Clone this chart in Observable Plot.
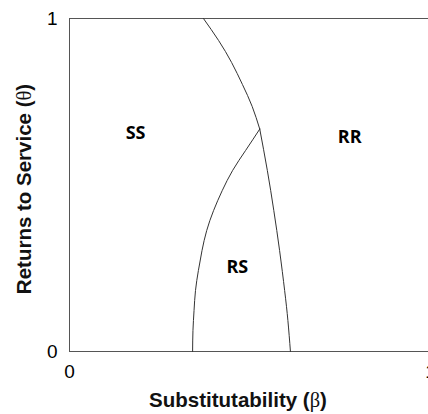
<!DOCTYPE html>
<html>
<head>
<meta charset="utf-8">
<script src="https://cdn.jsdelivr.net/npm/d3@7"></script>
<script src="https://cdn.jsdelivr.net/npm/@observablehq/plot@0.6"></script>
<style>
  html, body { margin: 0; padding: 0; background: #fff; overflow: hidden; }
  #chart svg { display: block; }
</style>
</head>
<body>
<div id="chart"></div>
<script>
// Boundary curves (beta, theta)
const boundarySS_RR = [
  {beta: 0.371, theta: 1.000}, {beta: 0.413, theta: 0.934}, {beta: 0.449, theta: 0.868},
  {beta: 0.479, theta: 0.802}, {beta: 0.506, theta: 0.736}, {beta: 0.527, theta: 0.668}
];
const boundaryRS_RR = [
  {beta: 0.527, theta: 0.668}, {beta: 0.548, theta: 0.544}, {beta: 0.566, theta: 0.423},
  {beta: 0.582, theta: 0.303}, {beta: 0.596, theta: 0.183}, {beta: 0.605, theta: 0.093},
  {beta: 0.612, theta: 0.000}
];
const boundarySS_RS = [
  {beta: 0.527, theta: 0.668}, {beta: 0.488, theta: 0.604}, {beta: 0.452, theta: 0.544},
  {beta: 0.423, theta: 0.483}, {beta: 0.399, theta: 0.423}, {beta: 0.380, theta: 0.363},
  {beta: 0.367, theta: 0.303}, {beta: 0.357, theta: 0.243}, {beta: 0.349, theta: 0.183},
  {beta: 0.345, theta: 0.123}, {beta: 0.342, theta: 0.063}, {beta: 0.341, theta: 0.000}
];
const regionLabels = [
  {beta: 0.183, theta: 0.655, label: "SS"},
  {beta: 0.776, theta: 0.643, label: "RR"},
  {beta: 0.465, theta: 0.252, label: "RS"}
];
const xTicks = [0, 1];
const yTicks = [0, 1];
const xTitle = "Substitutability (β)";
const yTitle = "Returns to Service (θ)";

const curveStyle = {x: "beta", y: "theta", stroke: "#333", strokeWidth: 1, curve: "natural"};

const chart = Plot.plot({
  width: 428,
  height: 414,
  marginLeft: 69,
  marginRight: -2,
  marginTop: 18,
  marginBottom: 63,
  x: {domain: [0, 1]},
  y: {domain: [0, 1]},
  style: {fontFamily: "'Liberation Sans', Arial, sans-serif", background: "#fff", color: "#000"},
  marks: [
    Plot.ruleX([0], {stroke: "#555", strokeWidth: 1}),
    Plot.ruleY([0, 1], {stroke: "#555", strokeWidth: 1}),
    Plot.line(boundarySS_RR, curveStyle),
    Plot.line(boundaryRS_RR, curveStyle),
    Plot.line(boundarySS_RS, curveStyle),
    Plot.text(regionLabels, {x: "beta", y: "theta", text: "label", fontFamily: "'Open Sans', sans-serif",
      fontWeight: "bold", fontSize: 18, fill: "#000"}),
    Plot.axisX({ticks: xTicks, tickSize: 0, tickPadding: 13, fontSize: 19, label: null, tickFormat: d => String(d)}),
    Plot.axisY({ticks: yTicks, tickSize: 0, tickPadding: 12, fontSize: 19, label: null, tickFormat: d => String(d)}),
    Plot.text([xTitle], {text: d => d, frameAnchor: "bottom", dy: 55, dx: -12, lineAnchor: "bottom",
      textAnchor: "middle", fontWeight: "bold", fontSize: 20.5, fill: "#111"}),
    Plot.text([yTitle], {text: d => d, frameAnchor: "left", dx: -39, dy: 4, rotate: -90, lineAnchor: "bottom",
      textAnchor: "middle", fontWeight: "bold", fontSize: 20.5, fill: "#111"})
  ]
});
document.getElementById("chart").appendChild(chart);

// Render Greek letters in a serif, non-bold face like the original
d3.select(chart).selectAll("text").each(function() {
  const t = d3.select(this);
  const s = t.text();
  const m = s.match(/^(.*\()([βθ])(\))$/);
  if (!m) return;
  t.text(null);
  t.append("tspan").text(m[1]);
  t.append("tspan").attr("font-family", "'Liberation Serif', 'DejaVu Serif', serif")
    .attr("font-weight", "normal").text(m[2]);
  t.append("tspan").text(m[3]);
});
</script>
</body>
</html>
